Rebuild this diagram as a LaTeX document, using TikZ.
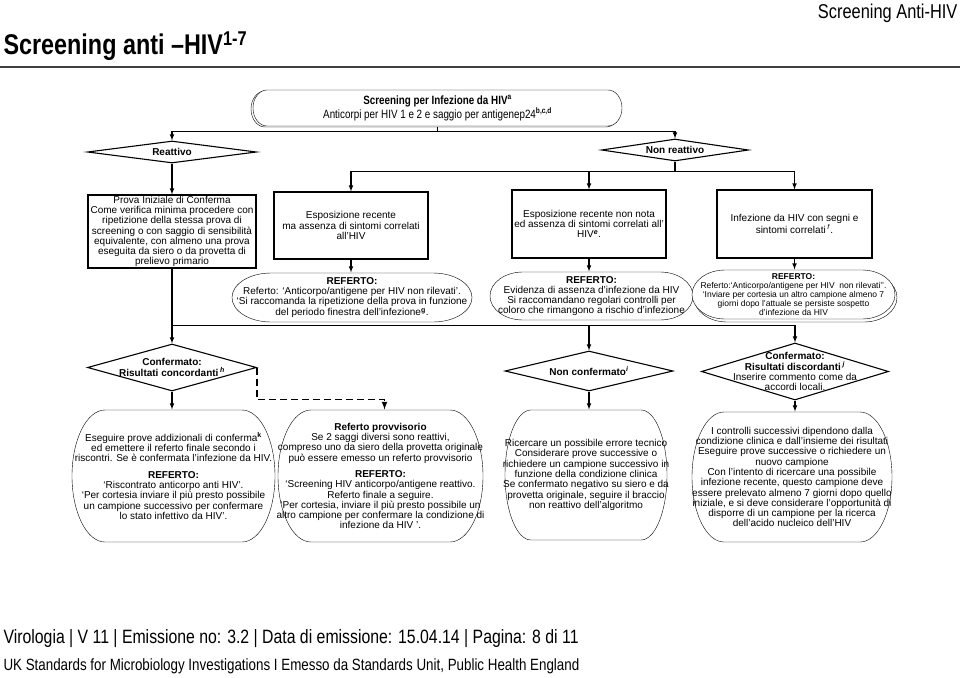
\documentclass[tikz,border=0pt]{standalone}
\usepackage{fontspec}
\setmainfont{Liberation Sans}
\newfontfamily\narrow[FakeStretch=0.82]{Liberation Sans}
\usetikzlibrary{shapes.geometric,calc,backgrounds}

% Umriss mit elliptischen Enden (Name, halbe Breite, halbe Hoehe, Radius)
\newcommand{\termbox}[5][]{%
  \draw[#1] ($(#2.center)+({-#3+#5},#4)$) -- ($(#2.center)+({#3-#5},#4)$)
    arc[start angle=90,end angle=-90,x radius=#5,y radius=#4]
    -- ($(#2.center)+({-#3+#5},-#4)$)
    arc[start angle=270,end angle=90,x radius=#5,y radius=#4] -- cycle;}

\begin{document}
\begin{tikzpicture}[x=1pt,y=1pt,>=latex,line width=1.1pt,
  every node/.style={inner sep=0pt},
  txt/.style={align=center,font=\fontsize{10}{10.3}\selectfont},
  box/.style={txt,draw,rectangle},
  dia/.style={diamond,draw},
  dlab/.style={align=center,font=\bfseries\fontsize{10}{11}\selectfont}]
\useasboundingbox (0,0) rectangle (960,-677);

% Kopf
\node[anchor=base east] (hdr) at (958,-19) {\narrow\fontsize{20}{20}\selectfont Screening Anti-HIV};
\node[anchor=base west] (title) at (3,-55) {\narrow\bfseries\fontsize{28.5}{28.5}\selectfont Screening anti –HIV\textsuperscript{1-7}};
\draw[line width=1.5pt,black!75] (0,-67) -- (960,-67);

% Screening
\node[txt,font=\narrow\fontsize{12}{14}\selectfont,minimum width=369pt,minimum height=36pt] (screen) at (437.5,-108)
  {\textbf{Screening per Infezione da HIV\textsuperscript{a}}\\Anticorpi per HIV 1 e 2 e saggio per antigenep24\textsuperscript{\textbf{b,c,d}}};

\node[dia,minimum width=169pt,minimum height=22pt,label={[dlab]center:Reattivo}] (reatt) at (172,-152) {};
\node[dia,minimum width=147pt,minimum height=22pt,label={[dlab]center:Non reattivo}] (nreatt) at (675,-150) {};

% Reattivo
\node[box,minimum width=168pt,minimum height=73pt] (prova) at (172,-231.5)
  {Prova Iniziale di Conferma\\Come verifica minima procedere con\\ripetizione della stessa prova di\\screening o con saggio di sensibilità\\equivalente, con almeno una prova\\eseguita da siero o da provetta di\\prelievo primario};

% Non reattivo
\node[box,minimum width=154pt,minimum height=67pt] (esp1) at (351,-225.5)
  {Esposizione recente\\ma assenza di sintomi correlati\\all’HIV};
\node[box,minimum width=154pt,minimum height=68pt] (esp2) at (589,-224)
  {Esposizione recente non nota\\ed assenza di sintomi correlati all’\\HIV\textsuperscript{\textbf{\textit{e}}}.};
\node[box,minimum width=155pt,minimum height=68pt] (infz) at (794.5,-224)
  {Infezione da HIV con segni e\\sintomi correlati\,\textsuperscript{\textit{f}}.};

\node[txt,minimum width=240pt,minimum height=49pt] (ref1) at (352,-297.5)
  {\textbf{REFERTO:}\\Referto: ‘Anticorpo/antigene per HIV non rilevati’.\\‘Si raccomanda la ripetizione della prova in funzione\\[1pt]del periodo finestra dell’infezione\textsuperscript{\textbf{g}}.};
\node[txt,minimum width=203pt,minimum height=48pt] (ref2) at (591.5,-296)
  {\textbf{REFERTO:}\\Evidenza di assenza d’infezione da HIV\\Si raccomandano regolari controlli per\\coloro che rimangono a rischio d’infezione};
\node[txt,font=\fontsize{8.5}{8.8}\selectfont,minimum width=203pt,minimum height=49pt] (ref3) at (793.5,-294.5)
  {\textbf{REFERTO:}\\Referto:‘Anticorpo/antigene per HIV\ \ non rilevati’’.\\‘Inviare per cortesia un altro campione almeno 7\\giorni dopo l’attuale se persiste sospetto\\d’infezione da HIV};

% Bestaetigung
\node[dia,minimum width=169pt,minimum height=47pt,
  label={[dlab]center:Confermato:\\Risultati concordanti\,\textsuperscript{\textit{h}}}] (conc) at (172,-367.5) {};
\node[dia,minimum width=168pt,minimum height=40pt,
  label={[dlab]center:Non confermato\textsuperscript{\textit{i}}}] (nconf) at (589,-371) {};
\node[dia,minimum width=187pt,minimum height=57pt,
  label={[dlab]center:Confermato:\\Risultati discordanti\,\textsuperscript{\textit{j}}\\[-1pt]\mdseries Inserire commento come da\\[-1pt]\mdseries accordi locali.}] (disc) at (795,-371.5) {};

% Ergebnisse
\node[txt,minimum width=203pt,minimum height=132pt] (b1) at (173.5,-476)
  {Eseguire prove addizionali di conferma\textsuperscript{\textbf{k}}\\ed emettere il referto finale secondo i\\riscontri. Se è confermata l’infezione da HIV.\\[6pt]
   \textbf{REFERTO:}\\‘Riscontrato anticorpo anti HIV’.\\‘Per cortesia inviare il più presto possibile\\un campione successivo per confermare\\lo stato infettivo da HIV’.};
\node[txt,minimum width=205pt,minimum height=132pt] (b2) at (380.5,-476)
  {\textbf{Referto provvisorio}\\Se 2 saggi diversi sono reattivi,\\compreso uno da siero della provetta originale\\può essere emesso un referto provvisorio\\[6pt]
   \textbf{REFERTO:}\\‘Screening HIV anticorpo/antigene reattivo.\\Referto finale a seguire.\\‘Per cortesia, inviare il più presto possibile un\\altro campione per confermare la condizione di\\infezione da HIV ’.};
\node[txt,minimum width=162pt,minimum height=130pt] (b3) at (586,-475)
  {Ricercare un possibile errore tecnico\\Considerare prove successive o\\richiedere un campione successivo in\\funzione della condizione clinica\\Se confermato negativo su siero e da\\provetta originale, seguire il braccio\\non reattivo dell’algoritmo};
\node[txt,minimum width=200pt,minimum height=130pt] (b4) at (792,-477)
  {I controlli successivi dipendono dalla\\condizione clinica e dall’insieme dei risultati\\Eseguire prove successive o richiedere un\\nuovo campione\\Con l’intento di ricercare una possibile\\infezione recente, questo campione deve\\essere prelevato almeno 7 giorni dopo quello\\iniziale, e si deve considerare l’opportunità di\\disporre di un campione per la ricerca\\dell’acido nucleico dell’HIV};

% Umrisse
\coordinate (screensh) at ($(screen.center)+(-2,-1)$);
\coordinate (ref3sh) at ($(ref3.center)+(2,-3)$);
\begin{scope}[on background layer]
\termbox{screensh}{184.5}{18}{14}
\termbox[fill=white]{screen}{184.5}{18}{14}
\termbox{ref1}{120}{24.5}{39}
\termbox{ref2}{101.5}{24}{33}
\termbox{ref3sh}{101.5}{24.5}{33}
\termbox[fill=white]{ref3}{101.5}{24.5}{33}
\termbox{b1}{101.5}{66}{33}
\termbox{b2}{102.5}{66}{33}
\termbox{b3}{81}{65}{26}
\termbox{b4}{100}{65}{32}
\end{scope}

% Verbindungen
\draw (screen.south) -- ++(0,-5) coordinate (s1);
\draw[->] (s1) -| (reatt.north);
\draw[->] (s1) -| (nreatt.north);
\draw (nreatt.south) -- ++(0,-10) coordinate (s2);
\draw[->] (s2) -| (esp1.north);
\draw[->] (s2) -| (esp2.north);
\draw[->] (s2) -| (infz.north);
\draw[->] (esp1.south) -- (esp1.south |- ref1.north);
\draw[->] (esp2.south) -- (esp2.south |- ref2.north);
\draw[->] (infz.south) -- (infz.south |- ref3.north);
\draw[->] (reatt.south) -- (prova.north);
\draw (prova.south) -- ++(0,-57) coordinate (s3);
\draw[->] (s3) -- (conc.north);
\draw[->] (s3) -| (nconf.north);
\draw[->] (s3) -| (disc.north);
\draw[->] (conc.south) -- (conc.south |- b1.north);
\draw[->,line width=1.6pt,dash pattern=on 7pt off 4pt] (conc.east) -- ++(0,-32) -| ([xshift=4pt]b2.north);
\draw[->] (nconf.south) -- (nconf.south |- b3.north);
\draw[->] (disc.south) -- (disc.south |- b4.north);

% Fuss
\node[anchor=base west] (foot1) at (3,-643) {\narrow\fontsize{19.3}{19.3}\selectfont Virologia | V 11 | Emissione no: 3.2 | Data di emissione: 15.04.14 | Pagina: 8 di 11};
\node[anchor=base west] (foot2) at (3,-670) {\narrow\fontsize{16.3}{16.3}\selectfont UK Standards for Microbiology Investigations I Emesso da Standards Unit, Public Health England};
\end{tikzpicture}
\end{document}
